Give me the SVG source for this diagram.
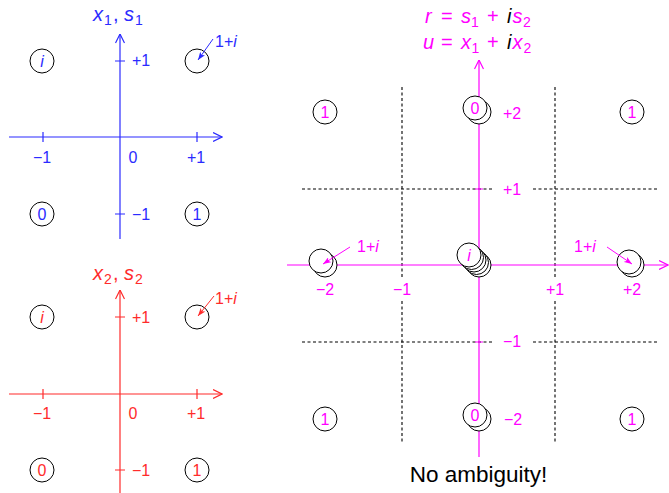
<svg xmlns="http://www.w3.org/2000/svg" width="669" height="493" viewBox="0 0 669 493">
<style>
text{font-family:"Liberation Sans",Arial,sans-serif}
.t{font-size:16px;text-anchor:middle}
.ts{font-size:16px}
.it{font-style:italic}
.B{fill:#2b2bff}.R{fill:#ff2b2b}.M{fill:#ff00ff}.K{fill:#000}
.c{fill:#fff;stroke:#000;stroke-width:1}
.axB{stroke:#2b2bff;stroke-width:1.2;fill:none}
.axR{stroke:#ff2b2b;stroke-width:1.2;fill:none}
.axM{stroke:#ff00ff;stroke-width:1.2;fill:none}
.dash{stroke:#000;stroke-width:1.1;stroke-dasharray:3 2.5;fill:none}
.ttl{font-size:20px}
.sub{font-size:14px}
</style>
<defs>
<marker id="vB" viewBox="0 0 10 10" refX="9.5" refY="5" markerWidth="10" markerHeight="10" markerUnits="userSpaceOnUse" orient="auto"><path d="M0.5,0.5 L9.5,5 L0.5,9.5" fill="none" stroke="#2b2bff" stroke-width="1.2"/></marker>
<marker id="vR" viewBox="0 0 10 10" refX="9.5" refY="5" markerWidth="10" markerHeight="10" markerUnits="userSpaceOnUse" orient="auto"><path d="M0.5,0.5 L9.5,5 L0.5,9.5" fill="none" stroke="#ff2b2b" stroke-width="1.2"/></marker>
<marker id="vM" viewBox="0 0 10 10" refX="9.5" refY="5" markerWidth="10" markerHeight="10" markerUnits="userSpaceOnUse" orient="auto"><path d="M0.5,0.5 L9.5,5 L0.5,9.5" fill="none" stroke="#ff00ff" stroke-width="1.2"/></marker>
<marker id="pB" viewBox="0 0 8 6" refX="8" refY="3" markerWidth="8" markerHeight="6" markerUnits="userSpaceOnUse" orient="auto"><path d="M0,0 L8,3 L0,6 L2,3z" fill="#2b2bff"/></marker>
<marker id="pR" viewBox="0 0 8 6" refX="8" refY="3" markerWidth="8" markerHeight="6" markerUnits="userSpaceOnUse" orient="auto"><path d="M0,0 L8,3 L0,6 L2,3z" fill="#ff2b2b"/></marker>
<marker id="pM" viewBox="0 0 8 6" refX="8" refY="3" markerWidth="8" markerHeight="6" markerUnits="userSpaceOnUse" orient="auto"><path d="M0,0 L8,3 L0,6 L2,3z" fill="#ff00ff"/></marker>
</defs>

<!-- Blue plot -->
<g id="blue-axes">
<line class="axB" x1="9" y1="137" x2="222" y2="137" marker-end="url(#vB)"/>
<line class="axB" x1="120" y1="239" x2="120" y2="34" marker-end="url(#vB)"/>
<path class="axB" d="M43,132V142M197,132V142M115,61H125M115,214H125"/>
<text class="t B" x="42" y="163">−1</text>
<text class="t B" x="133" y="163">0</text>
<text class="t B" x="196" y="163">+1</text>
<text class="ts B" x="132" y="66">+1</text>
<text class="ts B" x="132" y="220">−1</text>
<text class="ttl B it" y="21"><tspan x="93">x</tspan><tspan class="sub" x="104" y="25" font-style="normal">1</tspan><tspan x="113" y="21" font-style="normal">,</tspan><tspan x="124">s</tspan><tspan class="sub" x="135" y="25" font-style="normal">1</tspan></text>
</g>
<g id="b_i"><circle class="c" cx="42" cy="61" r="12"/><text class="t B it" x="42" y="66.5">i</text></g>
<g id="b_1i"><circle class="c" cx="197" cy="61" r="12"/></g>
<g id="b_0"><circle class="c" cx="42" cy="214" r="12"/><text class="t B" x="42" y="219.5">0</text></g>
<g id="b_1"><circle class="c" cx="197" cy="214" r="12"/><text class="t B" x="197" y="219.5">1</text></g>
<text class="ts B" x="215" y="47">1+<tspan class="it">i</tspan></text>

<!-- Red plot -->
<g id="red-axes">
<line class="axR" x1="9" y1="394" x2="222" y2="394" marker-end="url(#vR)"/>
<line class="axR" x1="120" y1="493" x2="120" y2="290" marker-end="url(#vR)"/>
<path class="axR" d="M43,389V399M197,389V399M115,317H125M115,470H125"/>
<text class="t R" x="42" y="419">−1</text>
<text class="t R" x="133" y="419">0</text>
<text class="t R" x="196" y="419">+1</text>
<text class="ts R" x="132" y="323">+1</text>
<text class="ts R" x="132" y="476">−1</text>
<text class="ttl R it" y="280"><tspan x="93">x</tspan><tspan class="sub" x="104" y="284" font-style="normal">2</tspan><tspan x="113" y="280" font-style="normal">,</tspan><tspan x="124">s</tspan><tspan class="sub" x="135" y="284" font-style="normal">2</tspan></text>
</g>
<g id="r_i"><circle class="c" cx="42" cy="317" r="12"/><text class="t R it" x="42" y="322.5">i</text></g>
<g id="r_1i"><circle class="c" cx="197" cy="317" r="12"/></g>
<g id="r_0"><circle class="c" cx="42" cy="470" r="12"/><text class="t R" x="42" y="475.5">0</text></g>
<g id="r_1"><circle class="c" cx="197" cy="470" r="12"/><text class="t R" x="197" y="475.5">1</text></g>
<text class="ts R" x="215" y="304">1+<tspan class="it">i</tspan></text>

<!-- Magenta plot -->
<g id="grid">
<path class="dash" d="M402,87V279M402,301V442M555,87V279M555,301V442"/>
<path class="dash" d="M302,189H493M533,189H658M302,342H493M533,342H658"/>
</g>
<g id="mag-axes">
<line class="axM" x1="287" y1="265" x2="668" y2="265" marker-end="url(#vM)"/>
<line class="axM" x1="479" y1="457" x2="479" y2="60" marker-end="url(#vM)"/>
<path class="axM" d="M475,189H483M475,342H483"/>
<text class="t M" x="325" y="295">−2</text>
<text class="t M" x="402" y="295">−1</text>
<text class="t M" x="555" y="295">+1</text>
<text class="t M" x="632" y="295">+2</text>
<text class="ts M" x="503" y="119">+2</text>
<text class="ts M" x="503" y="195">+1</text>
<text class="ts M" x="503" y="347">−1</text>
<text class="ts M" x="504" y="425">−2</text>
<text class="ttl M it" y="23"><tspan x="425">r</tspan><tspan x="441" font-style="normal">=</tspan><tspan x="461">s</tspan><tspan class="sub" x="471" y="27" font-style="normal">1</tspan><tspan x="487" y="23" font-style="normal">+</tspan><tspan x="507" class="K">i</tspan><tspan x="512.5">s</tspan><tspan class="sub" x="523" y="27" font-style="normal">2</tspan></text>
<text class="ttl M it" y="49"><tspan x="423">u</tspan><tspan x="441" font-style="normal">=</tspan><tspan x="461">x</tspan><tspan class="sub" x="471.5" y="53" font-style="normal">1</tspan><tspan x="487" y="49" font-style="normal">+</tspan><tspan x="507" class="K">i</tspan><tspan x="512.5">x</tspan><tspan class="sub" x="523.5" y="53" font-style="normal">2</tspan></text>
</g>
<g id="m_tl"><circle class="c" cx="325" cy="112" r="12"/><text class="t M" x="325" y="117.5">1</text></g>
<g id="m_tr"><circle class="c" cx="632" cy="112" r="12"/><text class="t M" x="632" y="117.5">1</text></g>
<g id="m_bl"><circle class="c" cx="325" cy="419" r="12"/><text class="t M" x="325" y="424.5">1</text></g>
<g id="m_br"><circle class="c" cx="632" cy="419" r="12"/><text class="t M" x="632" y="424.5">1</text></g>
<g id="m_top0"><circle class="c" cx="479" cy="112" r="12"/><circle class="c" cx="475" cy="108" r="12"/><text class="t M" x="475" y="113.5">0</text></g>
<g id="m_bot0"><circle class="c" cx="479" cy="419" r="12"/><circle class="c" cx="475" cy="415" r="12"/><text class="t M" x="475" y="420.5">0</text></g>
<g id="m_left"><circle class="c" cx="325" cy="265" r="12"/><circle class="c" cx="321" cy="261" r="12"/></g>
<g id="m_right"><circle class="c" cx="632" cy="265" r="12"/><circle class="c" cx="629" cy="262" r="12"/></g>
<g id="m_center"><circle class="c" cx="479" cy="265" r="12"/><circle class="c" cx="476.5" cy="262.5" r="12"/><circle class="c" cx="474" cy="260" r="12"/><circle class="c" cx="471.5" cy="257.5" r="12"/><circle class="c" cx="469" cy="255" r="12"/><text class="t M it" x="469" y="260.5">i</text></g>
<text class="ts M" x="357" y="252">1+<tspan class="it">i</tspan></text>
<text class="ts M" x="574" y="252">1+<tspan class="it">i</tspan></text>

<g id="connectors">
<line x1="213" y1="39" x2="198" y2="60" stroke="#2b2bff" stroke-width="1" marker-end="url(#pB)"/>
<line x1="214" y1="296" x2="198" y2="316" stroke="#ff2b2b" stroke-width="1" marker-end="url(#pR)"/>
<line x1="350" y1="247" x2="323" y2="264" stroke="#ff00ff" stroke-width="1" marker-end="url(#pM)"/>
<line x1="607" y1="247" x2="632" y2="264" stroke="#ff00ff" stroke-width="1" marker-end="url(#pM)"/>
</g>

<text x="478.5" y="482" font-size="22.5" text-anchor="middle" class="K">No ambiguity!</text>
</svg>
